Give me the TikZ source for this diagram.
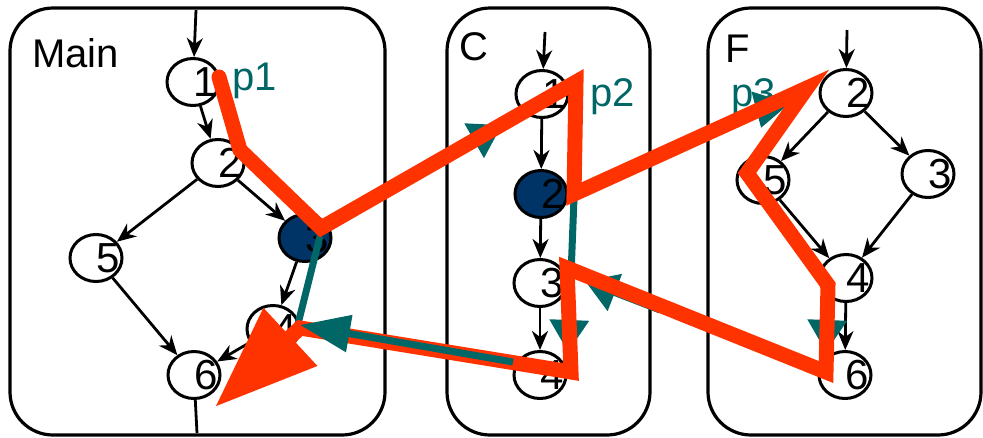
\documentclass[tikz,border=0pt]{standalone}
\usepackage{fontspec}
\setmainfont{Liberation Sans}
\usetikzlibrary{arrows.meta,shapes.geometric}

\definecolor{pathred}{HTML}{FF3300}
\definecolor{pathteal}{HTML}{006666}
\definecolor{callblk}{HTML}{003366}

% block number, set to the right of the block centre
\newcommand{\bnum}[1]{\makebox[0pt][l]{#1}}

\begin{document}
\begin{tikzpicture}[x=1pt,y=-1pt,
    proc/.style={line width=3.2pt,rounded corners=43pt},
    blk/.style={ellipse,draw,line width=3pt,fill=white,minimum width=52pt,minimum height=47pt,inner sep=0pt,font=\fontsize{42}{42}\selectfont},
    callblk/.style={blk,fill=callblk},
    lbl/.style={inner sep=0pt,anchor=base west,font=\fontsize{40}{40}\selectfont},
    plbl/.style={lbl,text=pathteal},
    flow/.style={line width=2.8pt,-{Stealth[length=19pt,width=16pt,inset=6pt]}},
    tline/.style={pathteal,line width=7pt},
    tarrow/.style={tline,-{Triangle[length=32pt,width=38pt]}},
    route/.style={pathred,line width=15pt,line cap=round,line join=miter}]
    \useasboundingbox (0,0) rectangle (983,437);

    % procedures
    \draw[proc] (10,8) rectangle (385,435);
    \draw[proc] (447,8) rectangle (650,435);
    \draw[proc] (708,8) rectangle (981,435);
    \node[lbl] (tmain) at (32,67) {Main};
    \node[lbl] (tc) at (459,60) {C};
    \node[lbl] (tf) at (725,62) {F};

    % flow graph of Main
    \node[blk] (m1) at (193,82) {\bnum{1}};
    \node[blk] (m2) at (218,163) {\bnum{2}};
    \node[callblk] (m3) at (305,238) {\bnum{3}};
    \node[blk] (m4) at (273,329) {\bnum{4}};
    \node[blk] (m5) at (96,258) {\bnum{5}};
    \node[blk] (m6) at (194,375) {\bnum{6}};
    % flow graph of C
    \node[blk] (c1) at (542,94) {\bnum{1}};
    \node[callblk] (c2) at (541,194) {\bnum{2}};
    \node[blk] (c3) at (540,283) {\bnum{3}};
    \node[blk] (c4) at (540,375) {\bnum{4}};
    % flow graph of F
    \node[blk] (f2) at (846,93) {\bnum{2}};
    \node[blk] (f5) at (763,180) {\bnum{5}};
    \node[blk] (f3) at (928,174) {\bnum{3}};
    \node[blk] (f4) at (846,278) {\bnum{4}};
    \node[blk] (f6) at (845,375) {\bnum{6}};

    \coordinate (min) at (196,10);
    \coordinate (mout) at (197,433);
    \coordinate (cin) at (545,32);
    \coordinate (fin) at (847,30);
    \draw[flow] (min) -- (m1);
    \draw[flow] (cin) -- (c1);
    \draw[flow] (fin) -- (f2);
    \draw[line width=2.8pt] (m6) -- (mout);
    \foreach \a/\b in {m1/m2,m2/m5,m2/m3,m3/m4,m5/m6,m4/m6,
                       c1/c2,c2/c3,c3/c4,
                       f2/f5,f2/f3,f5/f4,f3/f4,f4/f6}
        \draw[flow] (\a) -- (\b);

    \node[plbl] (p1) at (232,90) {p1};
    \node[plbl] (p2) at (590,106) {p2};
    \node[plbl] (p3) at (731,106) {p3};

    % corners of the long path
    \foreach \n/\x/\y in {r0/219/77, r1/240/150, r2/321/228, r3/576/82,
                          r4/574/194, r5/807/88, r6/747/173, r7/828/285,
                          r8/826/372, r9/567/268, r10/571/372, r11/300/328,
                          r12/215/407}
        \coordinate (\n) at (\x,\y);

    % teal paths below the long path
    \draw[tline] (320,236) -- (298,324);
    \draw[tarrow] (440,160) -- (502,125);
    \draw[tarrow] (574,198) -- (568,352);
    \draw[tarrow] (771,96) -- (761,128);
    \draw[tarrow] (828,300) -- (826,352);
    \draw[tarrow] (660,310) -- (585,281);

    \draw[route,-{Triangle[length=103pt,width=75pt]}]
        (r0) -- (r1) -- (r2) -- (r3) -- (r4) -- (r5) -- (r6) -- (r7)
        -- (r8) -- (r9) -- (r10) -- (r11) -- (r12);

    % return edge into Main drawn on top
    \draw[tline,-{Triangle[length=50pt,width=36pt]}] (513,362) -- (300,325);
\end{tikzpicture}
\end{document}
